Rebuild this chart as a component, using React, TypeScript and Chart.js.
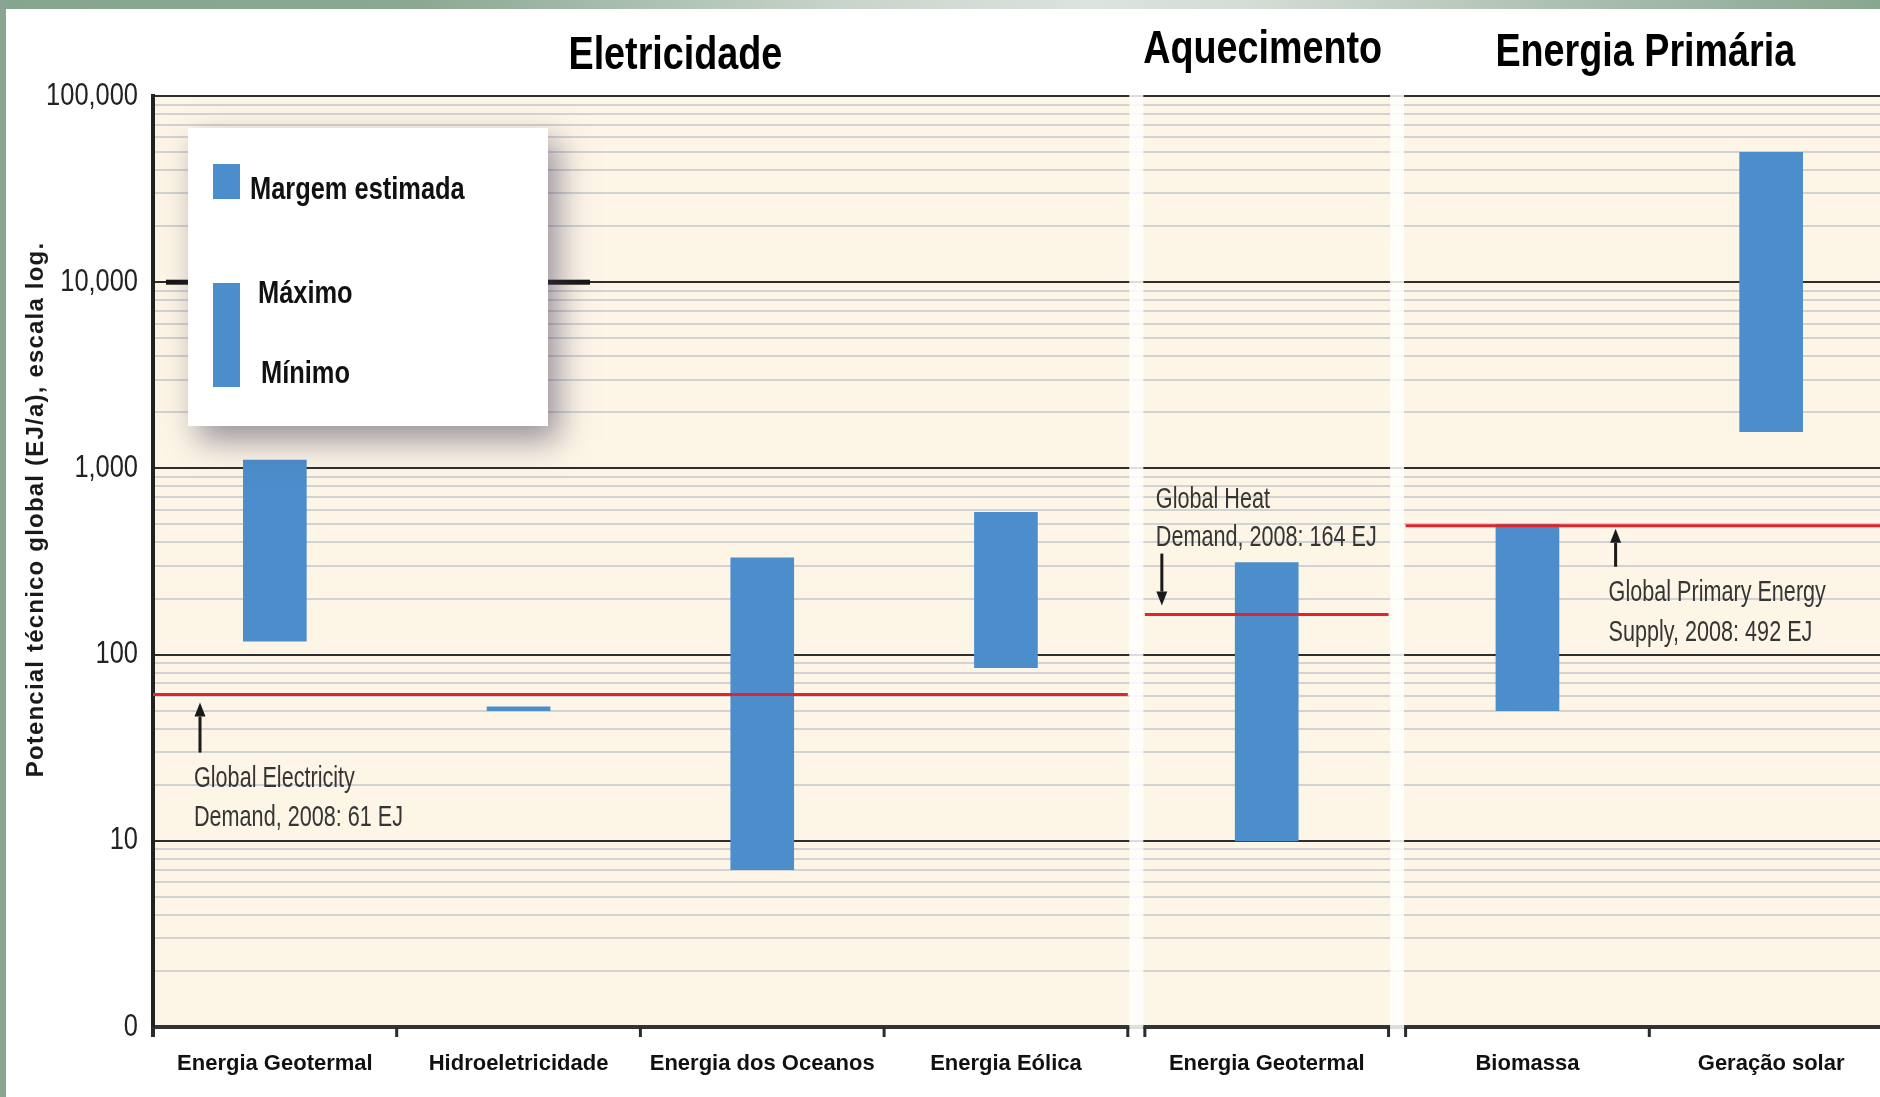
import React, { useEffect, useRef } from 'react';
import { Chart, registerables } from 'chart.js';

Chart.register(...registerables);

// ---------------- data ----------------
const categories = [
  'Energia Geotermal',
  'Hidroeletricidade',
  'Energia dos Oceanos',
  'Energia Eólica',
  'Energia Geotermal',
  'Biomassa',
  'Geração solar',
];
const categoryGroup = [0, 0, 0, 0, 1, 2, 2];
const groupTitles = ['Eletricidade', 'Aquecimento', 'Energia Primária'];
const rangeMin = [118, 50, 7, 85, 10, 50, 1575];
const rangeMax = [1109, 52.5, 331, 580, 312, 500, 49837];
const demandValues = [61, 164, 492];
const demandTexts = [
  ['Global Electricity', 'Demand, 2008: 61 EJ'],
  ['Global Heat', 'Demand, 2008: 164 EJ'],
  ['Global Primary Energy', 'Supply, 2008: 492 EJ'],
];
const yMajorTicks = [1, 10, 100, 1000, 10000, 100000];
const yMajorLabels = ['0', '10', '100', '1,000', '10,000', '100,000'];
const yAxisTitle = 'Potencial técnico global (EJ/a), escala log.';
const legendTexts = ['Margem estimada', 'Máximo', 'Mínimo'];

// ---------------- styling / layout helpers ----------------
const BLUE = '#4C8DCB';
const RED = '#E2252B';
const CREAM = '#FDF5E6';
const SANS = "'Liberation Sans', Arial, sans-serif";
const NARROW_X = 0.82; // horizontal squeeze to mimic a narrow face
const GAP = 0.07;

const xLeft = (i: number) => i + GAP * categoryGroup[i];
const xCenter = (i: number) => xLeft(i) + 0.5;
const groupIdx = (g: number) => categories.map((_, i) => i).filter((i) => categoryGroup[i] === g);
const groupStart = (g: number) => Math.min(...groupIdx(g).map(xLeft));
const groupEnd = (g: number) => Math.max(...groupIdx(g).map(xLeft)) + 1;
const X_MAX = groupEnd(groupTitles.length - 1);
const boundaries = Array.from(new Set(categories.flatMap((_, i) => [xLeft(i), xLeft(i) + 1])));

const minorTicks: number[] = [];
for (let e = 0; e < 5; e++) for (let m = 1; m <= 9; m++) minorTicks.push(m * Math.pow(10, e));
minorTicks.push(100000);
const isMajor = (v: number) => yMajorTicks.some((t) => Math.abs(t - v) < 1e-9 * t);

const titleLayout = [
  { dx: 35, dy: -27 },
  { dx: -4, dy: -33 },
  { dx: -4, dy: -30 },
];
const annotLayout = [
  { arrowDx: 47, tipDy: 8, tailDy: 58, textDx: 41, lineDy: [92, 131] },
  { arrowDx: 17, tipDy: -9, tailDy: -61, textDx: 11, lineDy: [-107, -69] },
  { arrowDx: 210, tipDy: 3, tailDy: 41, textDx: 203, lineDy: [75, 115] },
];

function squeezedText(ctx: CanvasRenderingContext2D, t: string, x: number, y: number, sx: number) {
  ctx.save();
  ctx.translate(x, y);
  ctx.scale(sx, 1);
  ctx.fillText(t, 0, 0);
  ctx.restore();
}

function drawArrow(ctx: CanvasRenderingContext2D, x: number, yTail: number, yTip: number) {
  const dir = yTip > yTail ? 1 : -1;
  const headLen = 14;
  ctx.strokeStyle = '#1a1a1a';
  ctx.fillStyle = '#1a1a1a';
  ctx.lineWidth = 3;
  ctx.beginPath();
  ctx.moveTo(x, yTail);
  ctx.lineTo(x, yTip - dir * headLen);
  ctx.stroke();
  ctx.beginPath();
  ctx.moveTo(x, yTip);
  ctx.lineTo(x - 5.5, yTip - dir * headLen);
  ctx.lineTo(x + 5.5, yTip - dir * headLen);
  ctx.closePath();
  ctx.fill();
}

const decoPlugin = {
  id: 'deco',
  beforeDraw(chart: any) {
    const { ctx, chartArea: a } = chart;
    ctx.save();
    ctx.fillStyle = CREAM;
    ctx.fillRect(a.left, a.top, a.right - a.left, a.bottom - a.top);
    ctx.restore();
  },
  afterDraw(chart: any) {
    const { ctx, chartArea: a } = chart;
    const x = chart.scales.x;
    const y = chart.scales.y;
    ctx.save();

    // white separators between groups
    for (let g = 0; g < groupTitles.length - 1; g++) {
      const x0 = x.getPixelForValue(groupEnd(g));
      const x1 = x.getPixelForValue(groupStart(g + 1));
      ctx.fillStyle = 'rgba(255,255,255,0.84)';
      ctx.fillRect(x0 + 1.5, a.top - 3, x1 - x0 - 3, a.bottom - a.top + 6);
    }

    // boundary tick marks on x axis
    ctx.fillStyle = '#2b2b2b';
    boundaries.forEach((b) => {
      const px = x.getPixelForValue(b);
      ctx.fillRect(px - 1.5, a.bottom, 3, 10);
    });
    ctx.fillRect(a.left - 2, a.bottom, 4, 10);

    // group titles
    ctx.fillStyle = '#000';
    ctx.textAlign = 'center';
    ctx.textBaseline = 'alphabetic';
    ctx.font = `bold 46px ${SANS}`;
    groupTitles.forEach((t, g) => {
      const cx = (x.getPixelForValue(groupStart(g)) + x.getPixelForValue(groupEnd(g))) / 2;
      squeezedText(ctx, t, cx + titleLayout[g].dx, a.top + titleLayout[g].dy, NARROW_X);
    });

    // y axis title
    ctx.save();
    ctx.translate(36, (a.top + a.bottom) / 2 - 52);
    ctx.rotate(-Math.PI / 2);
    ctx.font = `bold 24px ${SANS}`;
    (ctx as any).letterSpacing = '1.2px';
    ctx.fillStyle = '#1a1a1a';
    ctx.textAlign = 'center';
    ctx.textBaseline = 'middle';
    ctx.fillText(yAxisTitle, 0, 0);
    ctx.restore();

    // demand annotations
    demandValues.forEach((v, g) => {
      const L = annotLayout[g];
      const ly = y.getPixelForValue(v);
      const gx = x.getPixelForValue(groupStart(g));
      drawArrow(ctx, gx + L.arrowDx, ly + L.tailDy, ly + L.tipDy);
      ctx.fillStyle = '#353535';
      ctx.font = `30px ${SANS}`;
      ctx.textAlign = 'left';
      ctx.textBaseline = 'alphabetic';
      demandTexts[g].forEach((t, k) => {
        squeezedText(ctx, t, gx + L.textDx, ly + L.lineDy[k], 0.72);
      });
    });

    // legend
    const bx = a.left + 35;
    const by = a.top + 32;
    const bw = 360;
    const bh = 298;
    const y10k = y.getPixelForValue(10000);
    ctx.fillStyle = '#161616';
    ctx.fillRect(a.left + 13, y10k - 2.5, bx - (a.left + 13), 5);
    ctx.fillRect(bx + bw, y10k - 2.5, 42, 5);
    ctx.save();
    ctx.shadowColor = 'rgba(70,60,95,0.55)';
    ctx.shadowBlur = 30;
    ctx.shadowOffsetX = 10;
    ctx.shadowOffsetY = 14;
    ctx.fillStyle = '#ffffff';
    ctx.fillRect(bx, by, bw, bh);
    ctx.restore();
    ctx.fillStyle = BLUE;
    ctx.fillRect(bx + 25, by + 36, 27, 35);
    ctx.fillRect(bx + 25, by + 155, 27, 104);
    ctx.fillStyle = '#111';
    ctx.font = `bold 31px ${SANS}`;
    ctx.textAlign = 'left';
    ctx.textBaseline = 'alphabetic';
    squeezedText(ctx, legendTexts[0], bx + 62, by + 71, NARROW_X);
    squeezedText(ctx, legendTexts[1], bx + 70, by + 175, NARROW_X);
    squeezedText(ctx, legendTexts[2], bx + 73, by + 255, NARROW_X);

    ctx.restore();
  },
};

export default function App() {
  const ref = useRef<HTMLCanvasElement | null>(null);

  useEffect(() => {
    if (!ref.current) return;
    const barData = categories.map((_, i) => ({ x: xCenter(i), y: [rangeMin[i], rangeMax[i]] }));
    const lineSets = demandValues.map((v, g) => ({
      type: 'line' as const,
      data: [
        { x: groupStart(g), y: v },
        { x: groupEnd(g), y: v },
      ],
      borderColor: RED,
      borderWidth: 3,
      pointRadius: 0,
      borderCapStyle: 'butt' as const,
      order: 1,
    }));
    const chart = new Chart(ref.current, {
      type: 'bar',
      data: {
        datasets: [
          {
            type: 'bar',
            data: barData as any,
            backgroundColor: BLUE,
            borderWidth: 0,
            borderSkipped: false,
            barThickness: 63,
            grouped: false,
            order: 2,
          } as any,
          ...(lineSets as any[]),
        ],
      },
      options: {
        animation: false,
        responsive: false,
        events: [],
        layout: { padding: { top: 96, right: 7, bottom: 0, left: 0 } },
        plugins: { legend: { display: false }, tooltip: { enabled: false } },
        scales: {
          x: {
            type: 'linear',
            min: 0,
            max: X_MAX,
            offset: false,
            grid: { display: false, drawTicks: false },
            border: { display: true, color: '#333', width: 4 },
            afterBuildTicks: (scale: any) => {
              scale.ticks = categories.map((_, i) => ({ value: xCenter(i) }));
            },
            afterFit: (scale: any) => {
              scale.height = 70;
            },
            ticks: {
              autoSkip: false,
              maxRotation: 0,
              padding: 24,
              color: '#111',
              font: { family: SANS, weight: 'bold', size: 22 },
              callback: (_v: any, i: number) => categories[i],
            },
          },
          y: {
            type: 'logarithmic',
            min: 1,
            max: 100000,
            afterBuildTicks: (scale: any) => {
              scale.ticks = minorTicks.map((v) => ({ value: v, major: isMajor(v) }));
            },
            afterFit: (scale: any) => {
              scale.width = 153;
              if (!scale.__squeezed) {
                scale.__squeezed = true;
                const base = Object.getPrototypeOf(scale).drawLabels;
                scale.drawLabels = function (area: any) {
                  const c = this.ctx;
                  const ax = this.right - 15;
                  c.save();
                  c.translate(ax, 0);
                  c.scale(NARROW_X, 1);
                  c.translate(-ax, 0);
                  base.call(this, area);
                  c.restore();
                };
              }
            },
            grid: {
              drawTicks: false,
              color: (c: any) => (isMajor(c.tick.value) ? '#2e2e2e' : '#d2d2d3'),
              lineWidth: 2,
            },
            border: { display: true, color: '#222', width: 4 },
            ticks: {
              autoSkip: false,
              padding: 15,
              color: '#222',
              font: { family: SANS, size: 31 },
              callback: (v: any) => {
                const k = yMajorTicks.findIndex((t) => Math.abs(t - v) < 1e-9 * t);
                return k >= 0 ? yMajorLabels[k] : '';
              },
            },
          },
        },
      } as any,
      plugins: [decoPlugin],
    });
    return () => chart.destroy();
  }, []);

  return (
    <div
      style={{
        position: 'fixed',
        left: 0,
        top: 0,
        width: 1880,
        height: 1097,
        overflow: 'hidden',
        background: '#ffffff',
      }}
    >
      <canvas ref={ref} width={1900} height={1097} style={{ display: 'block', width: 1900, height: 1097 }} />
      <div
        style={{
          position: 'absolute',
          left: 0,
          top: 0,
          width: 1880,
          height: 9,
          background:
            'linear-gradient(to right, #86a58f 0%, #8ba893 22%, #c9d4cc 45%, #dde3df 58%, #d5ddd7 66%, #a9bcae 85%, #88a792 100%)',
        }}
      />
      <div style={{ position: 'absolute', left: 0, top: 0, width: 6, height: 1097, background: '#87a590' }} />
    </div>
  );
}
